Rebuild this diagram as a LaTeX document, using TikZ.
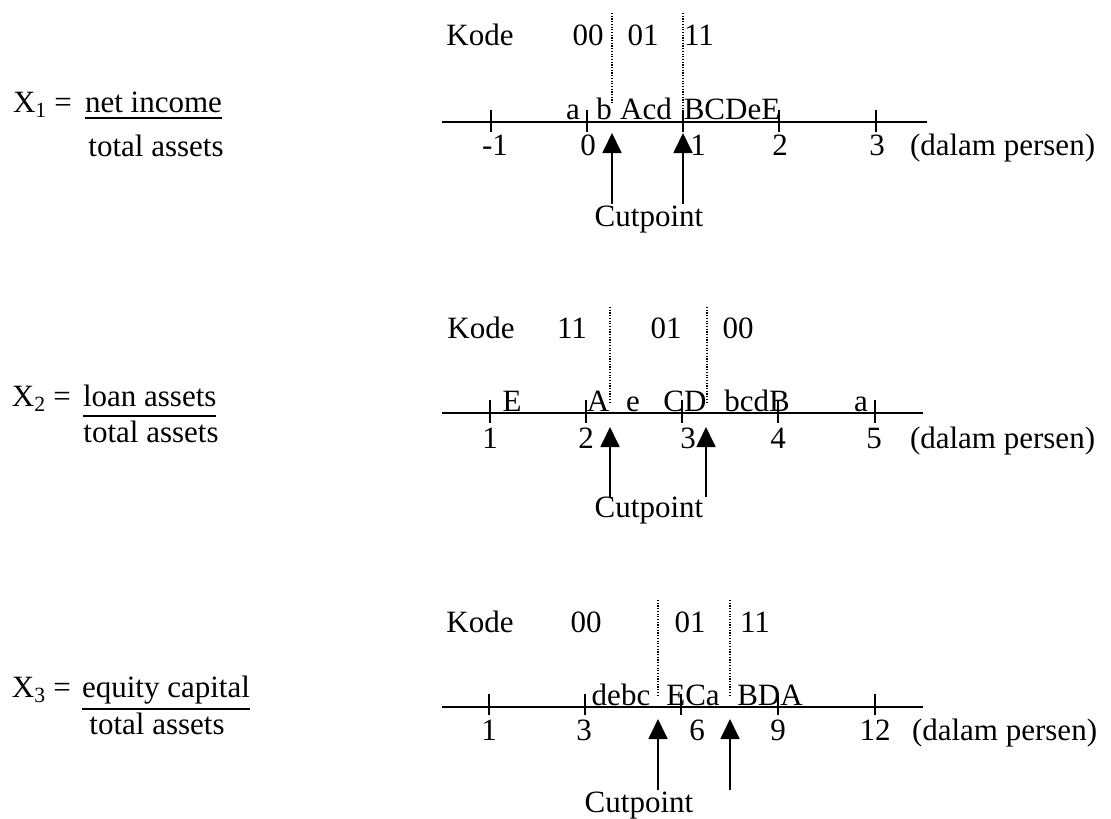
\documentclass[tikz,border=0pt]{standalone}
\usepackage{fontspec}
\setmainfont{Liberation Serif}
\usetikzlibrary{arrows.meta}
\begin{document}
\begin{tikzpicture}[x=1pt,y=-1pt,
  txt/.style={inner sep=0pt, outer sep=0pt, anchor=base, font=\fontsize{31}{37}\selectfont},
  txtw/.style={txt, anchor=base west},
  axisline/.style={line width=2.4pt},
  tickline/.style={line width=1.4pt},
  ulline/.style={line width=1.3pt},
  cutline/.style={line width=1.5pt, dash pattern=on 1.2pt off 1.5pt},
  cutarrow/.style={line width=1.8pt, -{Triangle[width=19pt,length=20pt]}},
]
\useasboundingbox (0,0) rectangle (1111,819);

% ================= Panel 1 =================
\node[txtw] (lhs1) at (13,112) {X\textsubscript{1} =};
\node[txtw] (num1) at (85,112) {net income};
\draw[ulline] (num1.base west |- 0,118) -- (num1.base east |- 0,118);
\node[txt] (den1) at (156,156) {total assets};

\node[txt] (kode1) at (480,45) {Kode};
\node[txt] (k1a) at (588,45) {00};
\node[txt] (k1b) at (643,45) {01};
\node[txt] (k1c) at (699,45) {11};

\coordinate (ax1l) at (442,122);
\coordinate (ax1r) at (927,122);
\draw[axisline] (ax1l) -- (ax1r);
\foreach \x in {491,587,683,779,876} \draw[tickline] (\x,110) -- (\x,132);
\node[txt] (t1a) at (495,155) {-1};
\node[txt] (t1b) at (588,155) {0};
\node[txt] (t1c) at (698,155) {1};
\node[txt] (t1d) at (780,155) {2};
\node[txt] (t1e) at (877,155) {3};
\node[txtw] (dp1) at (910,155) {(dalam persen)};

\node[txt] (l1a) at (573,119) {a};
\node[txt] (l1b) at (604,119) {b};
\node[txt] (l1c) at (646,119) {Acd};
\node[txt] (l1d) at (732,119) {BCDeE};

\coordinate (d1at) at (612,13);
\coordinate (d1ab) at (612,103);
\coordinate (d1bt) at (683,13);
\coordinate (d1bb) at (683,120);
\draw[cutline] (d1at) -- (d1ab);
\draw[cutline] (d1bt) -- (d1bb);

\node[txt] (cp1) at (649,226) {Cutpoint};
\coordinate (c1as) at (612,204);
\coordinate (c1at) at (612,133);
\coordinate (c1bs) at (683,204);
\coordinate (c1bt) at (683,133);
\draw[cutarrow] (c1as) -- (c1at);
\draw[cutarrow] (c1bs) -- (c1bt);

% ================= Panel 2 =================
\node[txtw] (lhs2) at (12,406) {X\textsubscript{2} =};
\node[txtw] (num2) at (83,406) {loan assets};
\draw[ulline] (num2.base west |- 0,416) -- (num2.base east |- 0,416);
\node[txt] (den2) at (151,442) {total assets};

\node[txt] (kode2) at (481,338) {Kode};
\node[txt] (k2a) at (572,338) {11};
\node[txt] (k2b) at (666,338) {01};
\node[txt] (k2c) at (738,338) {00};

\coordinate (ax2l) at (442,413);
\coordinate (ax2r) at (923,413);
\draw[axisline] (ax2l) -- (ax2r);
\foreach \x in {490,586,682,778,875} \draw[tickline] (\x,400) -- (\x,423);
\node[txt] (t2a) at (490,448) {1};
\node[txt] (t2b) at (586,448) {2};
\node[txt] (t2c) at (688,448) {3};
\node[txt] (t2d) at (778,448) {4};
\node[txt] (t2e) at (874,448) {5};
\node[txtw] (dp2) at (910,448) {(dalam persen)};

\node[txt] (l2a) at (512,411) {E};
\node[txt] (l2b) at (598,411) {A};
\node[txt] (l2c) at (633,411) {e};
\node[txt] (l2d) at (685,411) {CD};
\node[txt] (l2e) at (757,411) {bcdB};
\node[txt] (l2f) at (861,411) {a};

\coordinate (d2at) at (610,307);
\coordinate (d2ab) at (610,402);
\coordinate (d2bt) at (707,307);
\coordinate (d2bb) at (707,402);
\draw[cutline] (d2at) -- (d2ab);
\draw[cutline] (d2bt) -- (d2bb);

\node[txt] (cp2) at (649,517) {Cutpoint};
\coordinate (c2as) at (610,497);
\coordinate (c2at) at (610,427);
\coordinate (c2bs) at (706,497);
\coordinate (c2bt) at (706,427);
\draw[cutarrow] (c2as) -- (c2at);
\draw[cutarrow] (c2bs) -- (c2bt);

% ================= Panel 3 =================
\node[txtw] (lhs3) at (12,697) {X\textsubscript{3} =};
\node[txtw] (num3) at (82,697) {equity capital};
\draw[ulline] (num3.base west |- 0,709) -- (num3.base east |- 0,709);
\node[txt] (den3) at (157,734) {total assets};

\node[txt] (kode3) at (480,632) {Kode};
\node[txt] (k3a) at (586,632) {00};
\node[txt] (k3b) at (690,632) {01};
\node[txt] (k3c) at (755,632) {11};

\coordinate (ax3l) at (442,707);
\coordinate (ax3r) at (923,707);
\draw[axisline] (ax3l) -- (ax3r);
\foreach \x in {489,585,681,778,875} \draw[tickline] (\x,694) -- (\x,715);
\node[txt] (t3a) at (489,740) {1};
\node[txt] (t3b) at (584,740) {3};
\node[txt] (t3c) at (697,740) {6};
\node[txt] (t3d) at (778,740) {9};
\node[txt] (t3e) at (875,740) {12};
\node[txtw] (dp3) at (912,740) {(dalam persen)};

\node[txt] (l3a) at (621,705) {debc};
\node[txt] (l3b) at (693,705) {ECa};
\node[txt] (l3c) at (770,705) {BDA};

\coordinate (d3at) at (658,600);
\coordinate (d3ab) at (658,695);
\coordinate (d3bt) at (730,600);
\coordinate (d3bb) at (730,695);
\draw[cutline] (d3at) -- (d3ab);
\draw[cutline] (d3bt) -- (d3bb);

\node[txt] (cp3) at (639,812) {Cutpoint};
\coordinate (c3as) at (658,790);
\coordinate (c3at) at (658,719);
\coordinate (c3bs) at (730,790);
\coordinate (c3bt) at (730,719);
\draw[cutarrow] (c3as) -- (c3at);
\draw[cutarrow] (c3bs) -- (c3bt);
\end{tikzpicture}
\end{document}
